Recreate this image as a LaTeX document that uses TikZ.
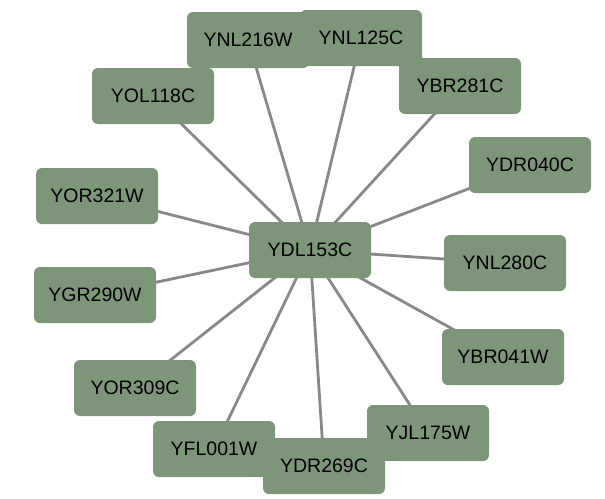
\documentclass[tikz,border=0pt]{standalone}
\usepackage{fontspec}
\setmainfont{Liberation Sans}
\usetikzlibrary{backgrounds}
\definecolor{boxfill}{RGB}{125,150,122}
\definecolor{edgecol}{RGB}{136,136,136}
\begin{document}
\begin{tikzpicture}[x=1pt,y=-1pt,
  gene/.style={fill=boxfill, rounded corners=6pt, minimum width=122pt, minimum height=56pt, inner sep=0pt, font=\fontsize{19.5}{22}\selectfont, text=black},
  link/.style={draw=edgecol, line width=2.8pt}]
\useasboundingbox (0,0) rectangle (605,498);
\node[gene] (YNL216W) at (248,40) {YNL216W};
\node[gene] (YNL125C) at (361,38) {YNL125C};
\node[gene] (YOL118C) at (153,96) {YOL118C};
\node[gene] (YBR281C) at (460,86) {YBR281C};
\node[gene] (YDR040C) at (530,165) {YDR040C};
\node[gene] (YOR321W) at (97,196) {YOR321W};
\node[gene] (YNL280C) at (505,263) {YNL280C};
\node[gene] (YGR290W) at (95,295) {YGR290W};
\node[gene] (YBR041W) at (503,357) {YBR041W};
\node[gene] (YOR309C) at (135,388) {YOR309C};
\node[gene] (YFL001W) at (214,449) {YFL001W};
\node[gene] (YDR269C) at (324,466) {YDR269C};
\node[gene] (YJL175W) at (428,433) {YJL175W};
\node[gene] (YDL153C) at (310,250) {YDL153C};
\begin{scope}[on background layer]
\foreach \n in {YNL216W,YNL125C,YOL118C,YBR281C,YDR040C,YOR321W,YNL280C,YGR290W,YBR041W,YOR309C,YFL001W,YDR269C,YJL175W}
  \draw[link] (YDL153C.center) -- (\n.center);
\end{scope}
\end{tikzpicture}
\end{document}
